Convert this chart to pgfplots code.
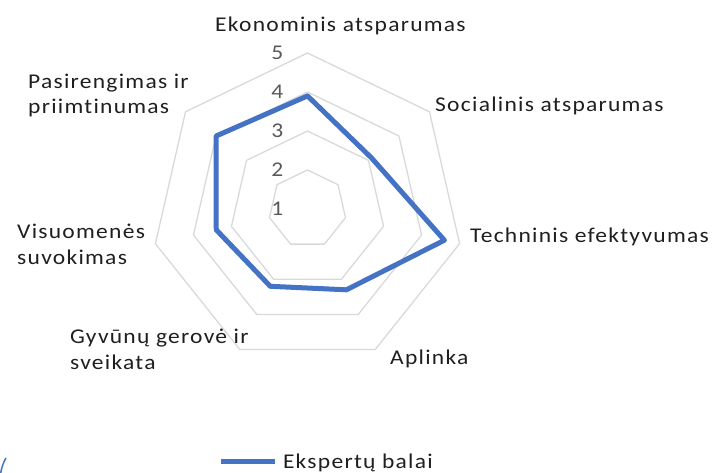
\documentclass[border=0pt]{standalone}
\usepackage{pgfplots}
\pgfplotsset{compat=1.18}
\usepackage{pgfplotstable}
\usepackage{fontspec}
\setmainfont{Carlito}[FakeStretch=1.12, LetterSpace=6, Ligatures=NoCommon]
\definecolor{serieblue}{HTML}{4472C4}
\definecolor{gridgray}{HTML}{D9D9D9}
\definecolor{labeltext}{HTML}{1F1F1F}
\definecolor{ticktext}{HTML}{595959}

% angle (deg, clockwise from top) and expert score; first point repeated to close
\pgfplotstableread{
a v
90 3.9
38.5714 3.1
-12.8571 4.6
-64.2857 3.3
-115.7143 3.2
-167.1429 3.4
141.4286 4.0
90 3.9
}\scores

\newcommand\pix[2]{({#1pt},{473pt-#2pt})}

\begin{document}
\begin{tikzpicture}[font=\fontsize{21}{25.5}\selectfont]
\path[use as bounding box] (0,0) rectangle (712pt,473pt);
\begin{axis}[
  at={(0,0)}, anchor=south west,
  x=39pt, y=39pt,
  xmin=-7.8846, xmax=10.3718, ymin=-6.7692, ymax=5.3590,
  hide axis, clip=false,
  legend cell align=left,
  legend style={at={(axis description cs:0.3062,0.0243)}, anchor=west,
    draw=none, fill=none, inner sep=0pt, outer sep=0pt,
    font=\fontsize{21}{25.5}\selectfont, text=labeltext,
    nodes={inner sep=0pt},
    /tikz/every odd column/.append style={column sep=6pt}},
  legend image code/.code={\draw[#1, line width=5pt, line cap=butt] (0pt,0pt) -- (54pt,0pt);},
]
\pgfplotsinvokeforeach{1,2,3,4}{
  \addplot[gridgray, line width=1.3pt, line cap=round, line join=miter, forget plot]
    table[x expr={#1*cos(\thisrow{a})}, y expr={#1*sin(\thisrow{a})}]{\scores};
}
\addplot[serieblue, line width=5pt, line join=round, line cap=round]
  table[x expr={(\thisrow{v}-1)*cos(\thisrow{a})}, y expr={(\thisrow{v}-1)*sin(\thisrow{a})}]{\scores};
\addlegendentry{Ekspertų balai}
\end{axis}

% radial tick labels
\begin{scope}[every node/.style={inner sep=0pt, text=ticktext, anchor=east}]
\node at \pix{283.5}{209} {1};
\node at \pix{283.5}{170} {2};
\node at \pix{283.5}{131} {3};
\node at \pix{283.5}{92} {4};
\node at \pix{283.5}{53} {5};
\end{scope}

% category labels
\begin{scope}[every node/.style={inner sep=0pt, text=labeltext, anchor=base west}]
\node at \pix{215}{32} {Ekonominis atsparumas};
\node at \pix{435}{111.5} {Socialinis atsparumas};
\node at \pix{470}{242.7} {Techninis efektyvumas};
\node at \pix{390}{365} {Aplinka};
\node at \pix{70}{344} {Gyvūnų gerovė ir};
\node at \pix{70}{369.5} {sveikata};
\node at \pix{17}{239} {Visuomenės};
\node at \pix{17}{264.5} {suvokimas};
\node at \pix{28}{88.3} {Pasirengimas ir};
\node at \pix{28}{113.8} {priimtinumas};
\end{scope}

% frame corner fragment
\draw[serieblue, line width=1.5pt] \pix{0.5}{474} .. controls \pix{1.5}{468} and \pix{3}{463} .. \pix{6}{458};
\end{tikzpicture}
\end{document}
